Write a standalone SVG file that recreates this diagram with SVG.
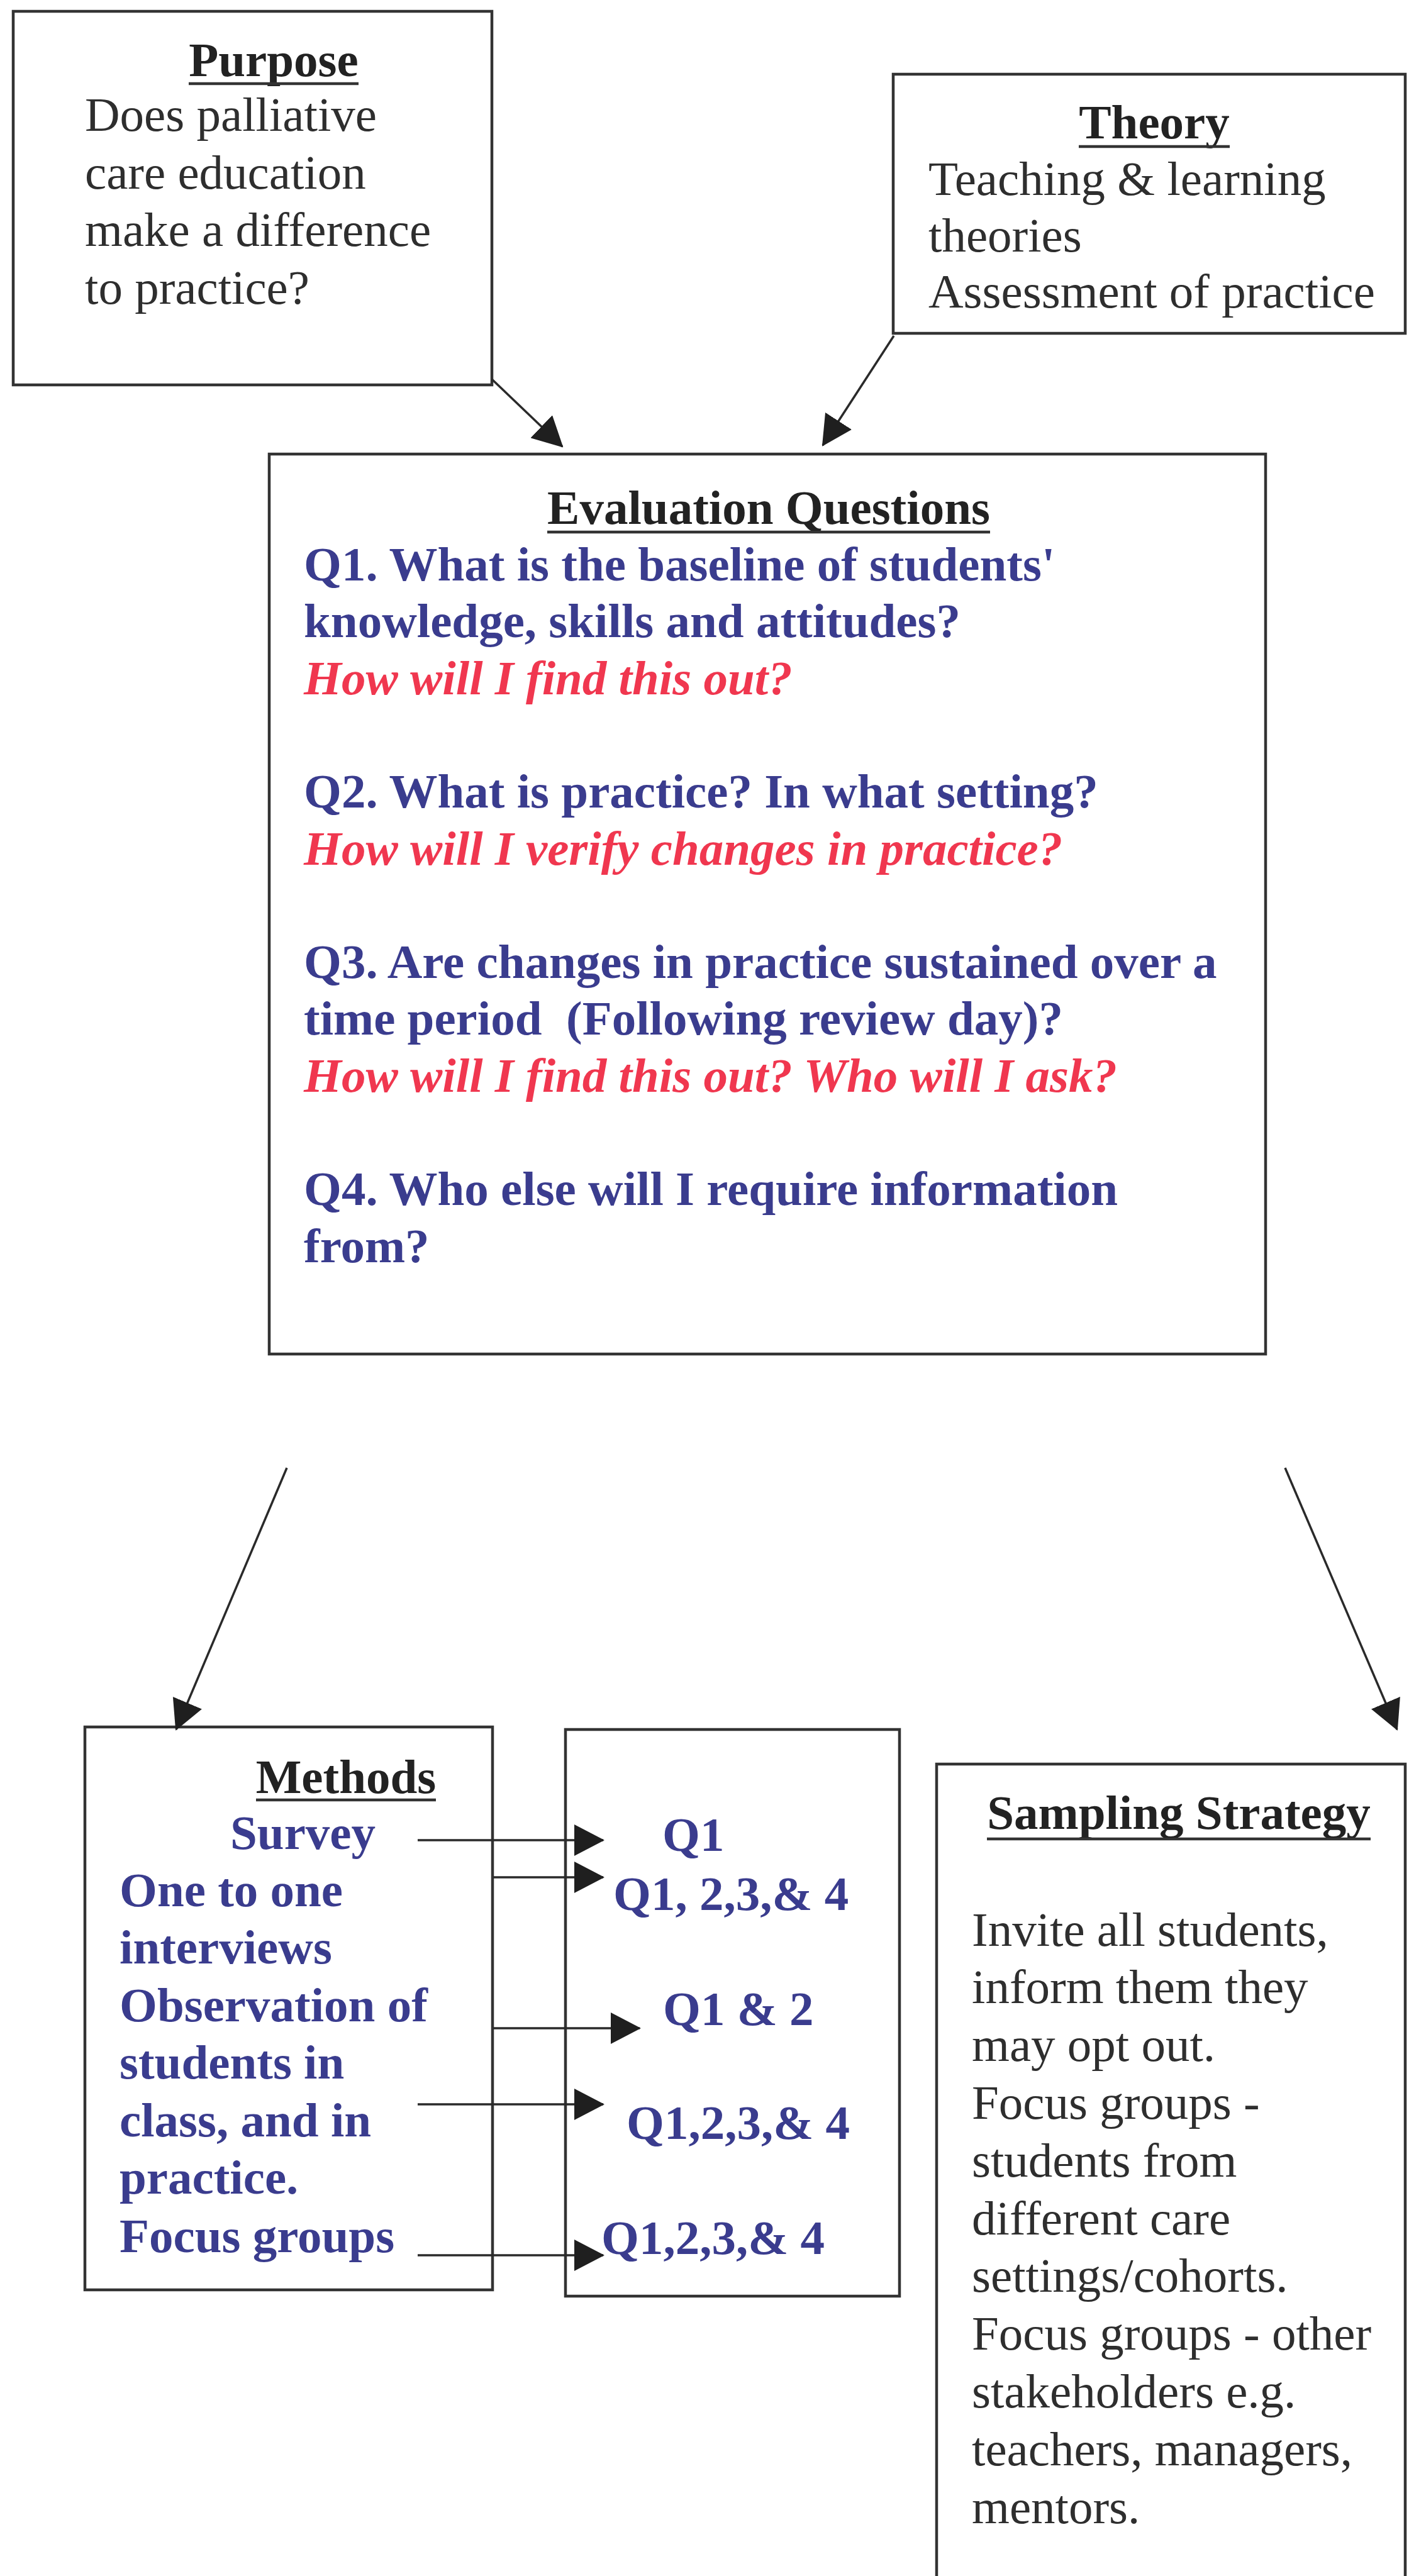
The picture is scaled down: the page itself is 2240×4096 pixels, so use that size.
<svg xmlns="http://www.w3.org/2000/svg" width="2240" height="4096" viewBox="0 0 2240 4096">
  <style>
    text { font-family: "Liberation Serif", "Times New Roman", serif; font-size: 77px; }
    .box { fill: #ffffff; stroke: #333333; stroke-width: 4.5; }
    .head { font-weight: bold; fill: #222222; text-anchor: middle; }
    .ul { stroke: #333333; stroke-width: 4.5; }
    .plain { fill: #2e2e2e; }
    .blue { font-weight: bold; fill: #3a3c8e; }
    .red { font-weight: bold; font-style: italic; fill: #f0374f; }
    .link { stroke: #2a2a2a; stroke-width: 3.5; fill: none; marker-end: url(#arrow); }
  </style>
  <defs>
    <marker id="arrow" markerUnits="userSpaceOnUse" viewBox="0 0 48 50" markerWidth="48" markerHeight="50" refX="46" refY="25" orient="auto">
      <path d="M0,0 L48,25 L0,50 Z" fill="#1f1f1f"/>
    </marker>
  </defs>
  <rect width="2240" height="4096" fill="#ffffff"/>

  <!-- Purpose -->
  <g id="purpose">
    <rect class="box" x="21" y="18" width="761" height="594"/>
    <text class="head" x="435" y="121">Purpose</text>
    <line class="ul" x1="300" y1="133" x2="570" y2="133"/>
    <text class="plain" x="135" y="208">Does palliative</text>
    <text class="plain" x="135" y="300">care education</text>
    <text class="plain" x="135" y="391">make a difference</text>
    <text class="plain" x="135" y="483">to practice?</text>
  </g>

  <!-- Theory -->
  <g id="theory">
    <rect class="box" x="1420" y="118" width="814" height="412"/>
    <text class="head" x="1835" y="220">Theory</text>
    <line class="ul" x1="1715" y1="233" x2="1955" y2="233"/>
    <text class="plain" x="1476" y="310">Teaching &amp; learning</text>
    <text class="plain" x="1476" y="400">theories</text>
    <text class="plain" x="1476" y="489">Assessment of practice</text>
  </g>

  <!-- Evaluation questions -->
  <g id="evaluation">
    <rect class="box" x="428" y="722" width="1584" height="1431"/>
    <text class="head" x="1222" y="833">Evaluation Questions</text>
    <line class="ul" x1="870" y1="846" x2="1574" y2="846"/>
    <text class="blue" x="483" y="923">Q1. What is the baseline of students'</text>
    <text class="blue" x="483" y="1013">knowledge, skills and attitudes?</text>
    <text class="red" x="483" y="1104">How will I find this out?</text>
    <text class="blue" x="483" y="1284">Q2. What is practice? In what setting?</text>
    <text class="red" x="483" y="1375">How will I verify changes in practice?</text>
    <text class="blue" x="483" y="1555">Q3. Are changes in practice sustained over a</text>
    <text class="blue" x="483" y="1645" style="white-space:pre">time period  (Following review day)?</text>
    <text class="red" x="483" y="1736">How will I find this out? Who will I ask?</text>
    <text class="blue" x="483" y="1916">Q4. Who else will I require information</text>
    <text class="blue" x="483" y="2007">from?</text>
  </g>

  <!-- Methods -->
  <g id="methods">
    <rect class="box" x="135" y="2746" width="648" height="895"/>
    <text class="head" x="550" y="2851">Methods</text>
    <line class="ul" x1="407" y1="2862" x2="693" y2="2862"/>
    <text class="blue" x="366" y="2940">Survey</text>
    <text class="blue" x="190" y="3031">One to one</text>
    <text class="blue" x="190" y="3122">interviews</text>
    <text class="blue" x="190" y="3214">Observation of</text>
    <text class="blue" x="190" y="3305">students in</text>
    <text class="blue" x="190" y="3397">class, and in</text>
    <text class="blue" x="190" y="3488">practice.</text>
    <text class="blue" x="190" y="3581">Focus groups</text>
  </g>

  <!-- Questions answered by each method -->
  <g id="coverage">
    <rect class="box" x="899" y="2750" width="531" height="901"/>
    <text class="blue" x="1053" y="2943">Q1</text>
    <text class="blue" x="975" y="3037">Q1, 2,3,&amp; 4</text>
    <text class="blue" x="1054" y="3220">Q1 &amp; 2</text>
    <text class="blue" x="996" y="3401">Q1,2,3,&amp; 4</text>
    <text class="blue" x="956" y="3584">Q1,2,3,&amp; 4</text>
  </g>

  <!-- Sampling strategy -->
  <g id="sampling">
    <path class="box" d="M1489,4100 V2805 H2234 V4100"/>
    <text class="head" x="1874" y="2908">Sampling Strategy</text>
    <line class="ul" x1="1569" y1="2924" x2="2179" y2="2924"/>
    <text class="plain" x="1545" y="3094">Invite all students,</text>
    <text class="plain" x="1545" y="3185">inform them they</text>
    <text class="plain" x="1545" y="3277">may opt out.</text>
    <text class="plain" x="1545" y="3369">Focus groups -</text>
    <text class="plain" x="1545" y="3461">students from</text>
    <text class="plain" x="1545" y="3553">different care</text>
    <text class="plain" x="1545" y="3644">settings/cohorts.</text>
    <text class="plain" x="1545" y="3736">Focus groups - other</text>
    <text class="plain" x="1545" y="3828">stakeholders e.g.</text>
    <text class="plain" x="1545" y="3920">teachers, managers,</text>
    <text class="plain" x="1545" y="4012">mentors.</text>
  </g>

  <!-- Connectors -->
  <g id="connectors">
    <line class="link" x1="782" y1="603" x2="894" y2="710"/>
    <line class="link" x1="1421" y1="534" x2="1308" y2="708"/>
    <line class="link" x1="456" y1="2334" x2="280" y2="2750"/>
    <line class="link" x1="2043" y1="2334" x2="2221" y2="2750"/>
    <line class="link" x1="664" y1="2926" x2="959" y2="2926"/>
    <line class="link" x1="784" y1="2985" x2="959" y2="2985"/>
    <line class="link" x1="784" y1="3225" x2="1017" y2="3225"/>
    <line class="link" x1="664" y1="3346" x2="959" y2="3346"/>
    <line class="link" x1="664" y1="3586" x2="959" y2="3586"/>
  </g>
</svg>
